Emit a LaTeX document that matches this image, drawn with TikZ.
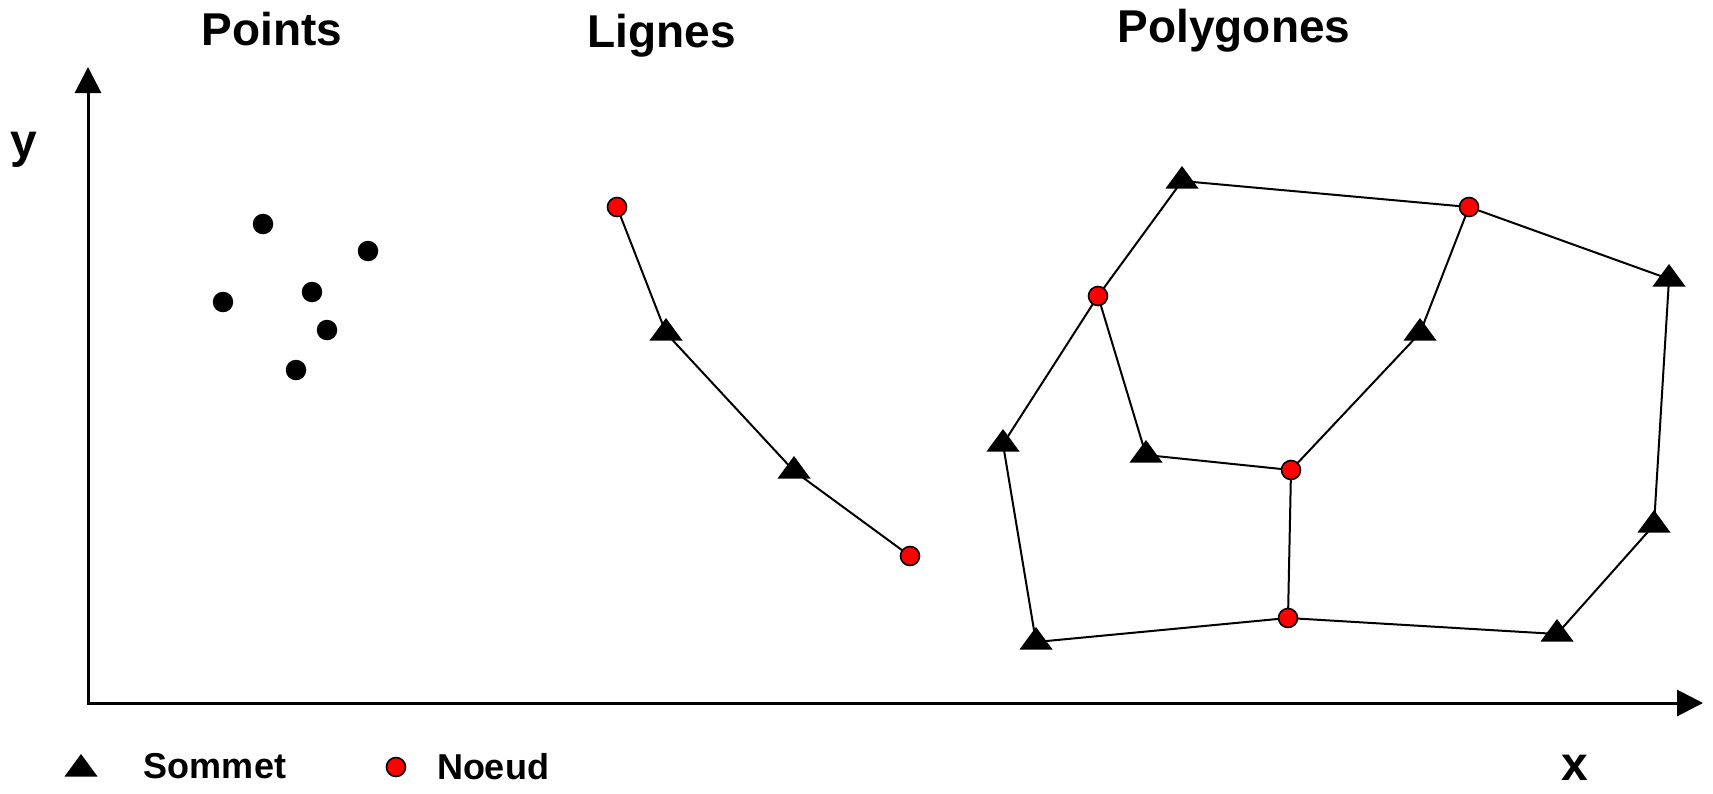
\documentclass[tikz,border=0pt]{standalone}
\usepackage{fontspec}
\setmainfont{Liberation Sans}
\usetikzlibrary{arrows.meta}
\begin{document}
\begin{tikzpicture}[x=1pt,y=-1pt,
  edge/.style={line width=2pt, black},
  axis/.style={line width=3pt},
  noeud/.style={circle, fill=red, draw=black, line width=1.6pt, minimum size=19pt, inner sep=0pt},
  pointnode/.style={circle, fill=black, minimum size=20.5pt, inner sep=0pt},
  title/.style={font=\bfseries\fontsize{46}{50}\selectfont, anchor=base},
  axlabel/.style={font=\bfseries\fontsize{48}{52}\selectfont, anchor=base},
  legendtext/.style={font=\bfseries\fontsize{36}{40}\selectfont, anchor=base},
  sommet/.pic={\fill (-16.5,7.5) -- (16.5,7.5) -- (0,-15) -- cycle;}
]
\useasboundingbox (0,0) rectangle (1713,793);

% titles
\node[title] (tpoints) at (272,45) {Points};
\node[title] (tlignes) at (662,47) {Lignes};
\node[title] (tpoly) at (1234,42) {Polygones};

% axes
\coordinate (o) at (88,703);
\coordinate (ytip) at (88,67);
\coordinate (xtip) at (1703,703);
\draw[axis, {Triangle[length=26pt,width=26pt]}-{Triangle[length=26pt,width=26pt]}]
  (ytip) -- (o) -- (xtip);
\node[axlabel] (ylab) at (24,157) {y};
\node[axlabel] (xlab) at (1575,780) {x};

% points
\node[pointnode] (p1) at (263,224) {};
\node[pointnode] (p2) at (368,251) {};
\node[pointnode] (p3) at (223,302) {};
\node[pointnode] (p4) at (312,292) {};
\node[pointnode] (p5) at (327,330) {};
\node[pointnode] (p6) at (296,370) {};

% line vertices
\coordinate (l1) at (617,207);
\coordinate (l2) at (666,333);
\coordinate (l3) at (794,471);
\coordinate (l4) at (910,556);
\draw[edge] (l1) -- (l2) -- (l3) -- (l4);

% polygon vertices
\coordinate (t1) at (1182,181);
\coordinate (n1) at (1469,207);
\coordinate (t2) at (1669,279);
\coordinate (n2) at (1098,296);
\coordinate (t3) at (1420,333);
\coordinate (t4) at (1003,444);
\coordinate (t5) at (1146,455);
\coordinate (n3) at (1291,470);
\coordinate (t6) at (1654,525);
\coordinate (t7) at (1036,642);
\coordinate (n4) at (1288,618);
\coordinate (t8) at (1557,634);

\draw[edge] (t1) -- (n1) -- (t2) -- (t6) -- (t8) -- (n4) -- (t7) -- (t4) -- (n2) -- (t1);
\draw[edge] (n1) -- (t3) -- (n3) -- (t5) -- (n2);
\draw[edge] (n3) -- (n4);

% markers
\pic at (l2) {sommet};
\pic at (l3) {sommet};
\node[noeud] (l1m) at (l1) {};
\node[noeud] (l4m) at (l4) {};

\foreach \t in {t1,t2,t3,t4,t5,t6,t7,t8}{\pic at (\t) {sommet};}
\node[noeud] (n1m) at (n1) {};
\node[noeud] (n2m) at (n2) {};
\node[noeud] (n3m) at (n3) {};
\node[noeud] (n4m) at (n4) {};

% legend
\coordinate (lgs) at (81,769);
\pic at (lgs) {sommet};
\node[legendtext] (lgstext) at (215,778) {Sommet};
\node[noeud] (lgn) at (396,767) {};
\node[legendtext] (lgntext) at (493,779) {Noeud};
\end{tikzpicture}
\end{document}
